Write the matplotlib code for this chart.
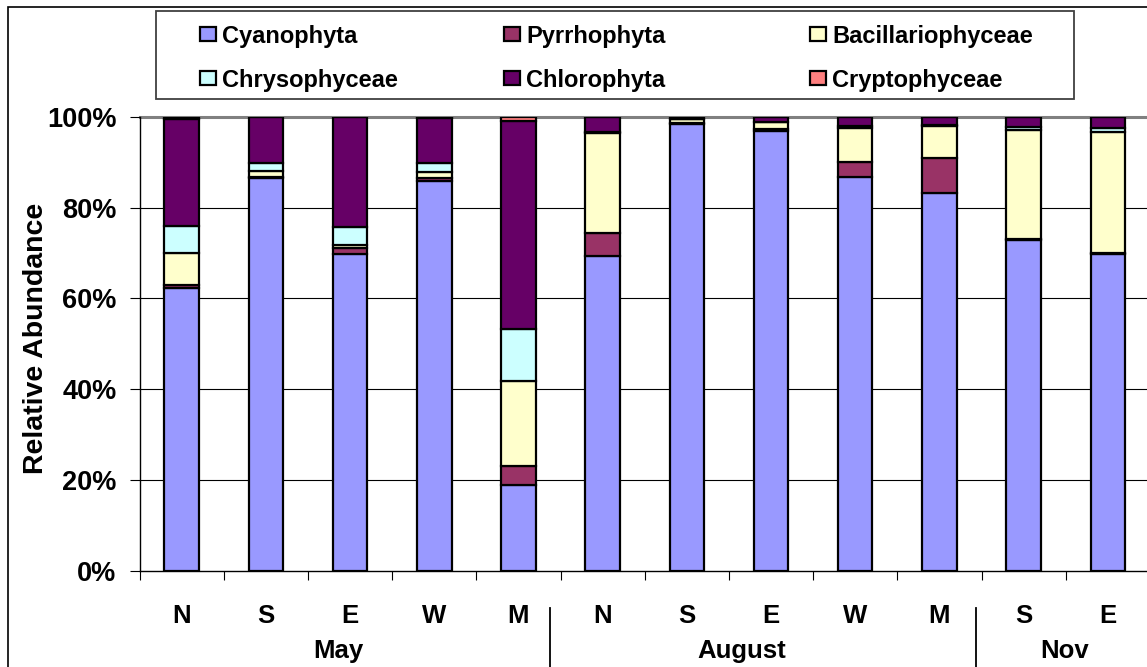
import numpy as np
import matplotlib
matplotlib.use("Agg")
import matplotlib.pyplot as plt
import matplotlib.patches as mpatches
from matplotlib.ticker import FuncFormatter

# ─────────────────────────────────────────────
# DATA (relative abundance, %)
# ─────────────────────────────────────────────

sites = ["N", "S", "E", "W", "M", "N", "S", "E", "W", "M", "S", "E"]
months = ["May", "August", "Nov"]

cyanophyta        = [62.3, 86.5, 69.8, 85.8, 18.9, 69.4, 98.3, 96.8, 86.8, 83.3, 72.9, 69.8]
pyrrhophyta       = [0.7, 0.3, 1.2, 0.6, 4.2, 5.0, 0.3, 0.6, 3.3, 7.6, 0.1, 0.1]
bacillariophyceae = [7.0, 1.2, 0.8, 1.4, 18.7, 22.0, 0.8, 1.5, 7.4, 7.0, 24.0, 26.8]
chrysophyceae     = [6.0, 1.8, 4.0, 1.9, 11.4, 0.2, 0.0, 0.0, 0.5, 0.3, 0.8, 0.8]
chlorophyta       = [23.4, 10.2, 24.2, 10.1, 45.8, 3.4, 0.6, 1.1, 2.0, 1.8, 2.2, 2.5]
cryptophyceae     = [0.6, 0.0, 0.0, 0.2, 1.0, 0.0, 0.0, 0.0, 0.0, 0.0, 0.0, 0.0]

series_names = ["Cyanophyta", "Pyrrhophyta", "Bacillariophyceae",
                "Chrysophyceae", "Chlorophyta", "Cryptophyceae"]
series_values = [cyanophyta, pyrrhophyta, bacillariophyceae,
                 chrysophyceae, chlorophyta, cryptophyceae]

# ─────────────────────────────────────────────
# CONFIG
# ─────────────────────────────────────────────

COLORS = {
    "Cyanophyta":        "#9999FF",
    "Pyrrhophyta":       "#993366",
    "Bacillariophyceae": "#FFFFCC",
    "Chrysophyceae":     "#CCFFFF",
    "Chlorophyta":       "#660066",
    "Cryptophyceae":     "#FF8080",
}

W, H = 1147, 667
FONT = "Liberation Sans"
plt.rcParams["font.family"] = [FONT, "DejaVu Sans"]
plt.rcParams["font.weight"] = "bold"

def fx(px):
    return px / W

def fy(py):
    return 1 - py / H

# ─────────────────────────────────────────────
# FIGURE
# ─────────────────────────────────────────────

fig = plt.figure(figsize=(W / 100, H / 100), dpi=100)
ax = fig.add_axes([fx(139.6), fy(571), (1149.9 - 139.6) / W, (571 - 116.7) / H])

x = np.arange(len(sites))
bottom = np.zeros(len(sites))
for name, vals in zip(series_names, series_values):
    ax.bar(x, vals, bottom=bottom, width=0.41, color=COLORS[name],
           edgecolor="black", linewidth=1.6, zorder=3)
    bottom += np.array(vals)

ax.set_xlim(-0.5, len(sites) - 0.5)
ax.set_ylim(0, 100)

# gridlines
for v in [20, 40, 60, 80]:
    ax.axhline(v, color="black", lw=0.8, zorder=1)
ax.axhline(100, color="#808080", lw=2.2, zorder=1, clip_on=False)

ax.spines[["top", "right"]].set_visible(False)
ax.spines["left"].set_linewidth(1.0)
ax.spines["bottom"].set_linewidth(1.0)

ax.set_yticks([0, 20, 40, 60, 80, 100])
ax.yaxis.set_major_formatter(FuncFormatter(lambda v, p: f"{v:.0f}%"))
ax.tick_params(axis="y", direction="out", length=7.2, width=0.8,
               pad=9.4, labelsize=19.5)
for lbl in ax.get_yticklabels():
    lbl.set_fontweight("bold")

ax.set_xticks(np.arange(len(sites) + 1) - 0.5)
ax.set_xticklabels([])
ax.tick_params(axis="x", direction="out", length=6.5, width=0.8)

# category labels and month groups
tr = ax.get_xaxis_transform()
ax_h = 571 - 116.7
for xi, s in zip(x, sites):
    ax.text(xi, -(623 - 571) / ax_h, s, transform=tr, ha="center",
            va="baseline", fontsize=18.5, fontweight="bold")

month_pos = [1.865, 6.65, 10.49]
for mx, m in zip(month_pos, months):
    ax.text(mx, -(658 - 571) / ax_h, m, transform=tr, ha="center",
            va="baseline", fontsize=18.5, fontweight="bold")

for sx in [4.38, 9.43]:
    ax.plot([sx, sx], [-(607.7 - 571) / ax_h, -0.3], transform=tr,
            color="black", lw=1.3, clip_on=False)

fig.text(fx(36), fy(338.5), "Relative Abundance", rotation=90,
         ha="center", va="center", fontsize=20.5, fontweight="bold")

# ─────────────────────────────────────────────
# LEGEND (manual box)
# ─────────────────────────────────────────────

fig.add_artist(mpatches.Rectangle((fx(156), fy(99)), fx(1074 - 156), (99 - 11) / H,
                                  transform=fig.transFigure, fill=False,
                                  edgecolor="#404040", lw=1.3))
col_x = [199, 503, 809]
row_y = [34.4, 77.7]
for i, name in enumerate(series_names):
    cx = col_x[i % 3]
    cy = row_y[i // 3]
    fig.add_artist(mpatches.Rectangle((fx(cx + 1), fy(cy + 7)), fx(16), 14 / H,
                                      transform=fig.transFigure,
                                      facecolor=COLORS[name], edgecolor="black",
                                      lw=1.6))
    fig.text(fx(cx + 23), fy(cy), name, ha="left", va="center_baseline",
             fontsize=17, fontweight="bold")

# outer chart frame
fig.add_artist(mpatches.Rectangle((fx(8), -0.2), 1.2, 0.2 + fy(6.7),
                                  transform=fig.transFigure, fill=False,
                                  edgecolor="black", lw=1.2))

fig.savefig("out.png", dpi=100)
